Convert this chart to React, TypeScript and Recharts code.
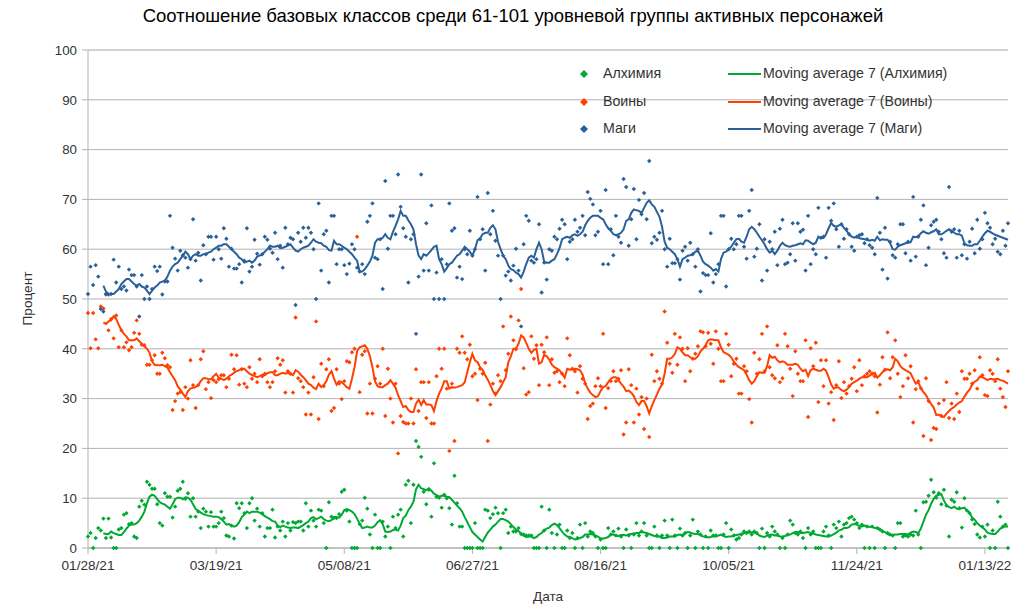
import React from 'react';
import { ComposedChart, Scatter, Line, XAxis, YAxis, CartesianGrid } from 'recharts';

// one value per day, starting 01/28/21
const START = '01/28/21';
const TICK_DAYS = [0, 50, 100, 150, 200, 250, 300, 350];
const TICK_LABELS = ['01/28/21', '03/19/21', '05/08/21', '06/27/21', '08/16/21', '10/05/21', '11/24/21', '01/13/22'];
const MAJOR_TICKS = [0, 10, 20, 30, 40, 50, 60, 70, 80, 90, 100];
const MINOR_TICKS = [0, 2, 4, 6, 8, 10, 12, 14, 16, 18, 20, 22, 24, 26, 28, 30, 32, 34, 36, 38, 40, 42, 44, 46, 48, 50,
  52, 54, 56, 58, 60, 62, 64, 66, 68, 70, 72, 74, 76, 78, 80, 82, 84, 86, 88, 90, 92, 94, 96, 98, 100];

const ALCH = [
  2.3, 3, 0, 2, 4, 3.5, 5.9, 2, 5.9, 2.1,
  0, 0, 3.7, 4, 6.7, 7, 4.8, 5, 2.3, 2,
  8.3, 9.5, 8.7, 13.3, 12.7, 11.9, 11.9, 8.8, 5, 4.5,
  11, 10.3, 10.3, 6.1, 8.3, 11.5, 11.9, 13.3, 9.9, 11,
  6.3, 10, 6.3, 7.3, 4, 7.9, 7.3, 4.3, 7.2, 4.3,
  4.3, 5, 7.3, 6, 2.5, 2.3, 4.5, 1.9, 9, 8,
  9, 7, 4, 9, 10, 5.5, 7.9, 4.3, 7, 2.3,
  4, 4, 7.7, 2.1, 4.3, 3.5, 5.3, 2.3, 5, 3.5,
  5.2, 5, 5.3, 5.3, 3.5, 9, 4.3, 7.5, 5.5, 4.3,
  7.7, 7.5, 5, 0, 9.2, 6.3, 6, 6, 6.8, 11.3,
  11.7, 7.5, 5.3, 0, 0, 0, 4.8, 5.5, 10.1, 7.9,
  2.7, 0, 6.7, 0, 0, 5.3, 2.3, 4.3, 0, 6.3,
  4, 6.7, 7.7, 2.3, 12.7, 13.5, 5, 12.7, 21.5, 20.3,
  18.3, 11.3, 8.8, 11.7, 6.3, 17, 10.3, 10.1, 8.1, 10.7,
  10, 8, 4.7, 14.5, 9, 4.3, 4.3, 0, 0, 0,
  0, 5, 0, 0, 0, 7.7, 7.5, 6, 6.8, 8.1,
  7, 0, 7, 7.7, 3, 4.3, 3.3, 3.3, 4, 2.8,
  2.7, 2.5, 2.5, 2.5, 0, 0, 0, 8.3, 3.5, 0,
  7.7, 3, 0, 2.7, 4.7, 0, 0, 3.5, 2, 3,
  0, 2, 4.7, 0, 5, 2.3, 3.3, 3, 2.3, 0,
  1.7, 0, 0, 4, 2.7, 3.3, 2.5, 3.9, 2.3, 0,
  3.7, 2.5, 0, 2.7, 5, 2.5, 3.3, 5, 2.5, 0,
  0, 4.3, 2.5, 0, 2.5, 5.5, 2.5, 0, 5.7, 2.5,
  0, 3.9, 2.5, 3, 0, 2.5, 5.7, 0, 3.3, 2.7,
  0, 2.3, 0, 3.5, 2.5, 2.5, 0, 0, 2.7, 5,
  0, 3.7, 2.5, 1.7, 2, 2.7, 3.3, 3, 3.3, 2.7,
  3.3, 3, 0, 3.9, 0, 3, 2.3, 4.3, 3.3, 2.7,
  0, 2, 0, 2.7, 5.5, 4.7, 3, 2.7, 3.3, 2,
  0, 4, 2.7, 3.3, 0, 0, 0, 3.3, 4.3, 2.5,
  0, 4.7, 4, 5.3, 2.3, 4.7, 5, 6, 6.3, 5.7,
  5, 4, 4.7, 0, 4.3, 0, 4.3, 0, 4, 3.7,
  3.3, 0, 3, 2.7, 2.5, 0, 5, 5, 2.3, 2.5,
  2.3, 2.7, 2.5, 7.5, 2.7, 0, 9.2, 9.3, 10.5, 13.7,
  11.2, 10.1, 11, 8.8, 11.7, 8.5, 2.3, 9.7, 9.3, 11.2,
  8, 4.1, 10, 7.5, 7, 5.7, 4.8, 2.7, 2.1, 4.3,
  2.3, 4.7, 0, 3.5, 0, 9.3, 6.3, 4.3, 4.7, 0,
];

const WAR = [
  47.2, 40.1, 47.2, 41.9, 40.1, 48.5, 48.1, 50.9, 43.7, 46,
  42.1, 46.7, 40.3, 43.7, 40.3, 41.3, 39.7, 40.3, 43.2, 45.7,
  43, 40.8, 40.7, 36.8, 36.8, 37.7, 38.7, 35, 35, 39.2,
  38.1, 36.7, 36.3, 27.7, 29.5, 31, 31.3, 27.7, 32.3, 30,
  37.7, 32.7, 28.1, 32.7, 37.9, 39.5, 31.9, 33.3, 30.1, 33.7,
  33.3, 33.9, 34.7, 34.7, 32.3, 34, 38.8, 35.9, 38.7, 32.8,
  35.9, 33, 32.3, 36.3, 34, 35, 33.3, 37.9, 34.5, 35,
  33.3, 32.3, 33.3, 35.5, 38.1, 36.8, 37.7, 31.2, 35.5, 35,
  31.2, 46.3, 34.1, 33.5, 32.3, 26.8, 31.2, 26.8, 34.3, 45.5,
  25.9, 37, 32.5, 35.9, 37.9, 27.5, 28.1, 35.9, 33, 29.9,
  33.5, 37.5, 37.3, 39.3, 40, 62.5, 31.3, 38.8, 39.5, 27,
  33, 27, 34, 36.5, 33, 40, 26.5, 36, 30, 25.2,
  33, 19, 26.5, 25.3, 25, 25, 30, 25, 35.9, 27.5,
  33.3, 33.3, 26.1, 33.3, 25, 25, 34.5, 40, 36, 40,
  32, 19.5, 33, 21.5, 40, 39.2, 42.5, 39.2, 37.9, 40.8,
  34.5, 35, 29.7, 36, 35, 37.2, 21.5, 28.8, 33, 31,
  34.7, 33.5, 44.5, 35.7, 39, 46.5, 41.7, 39.9, 45.7, 52,
  36.1, 30.8, 31.3, 42.5, 38, 40.7, 32.7, 40.8, 39.3, 42.3,
  32.7, 37.9, 35.2, 35.5, 33.3, 35, 32.5, 42.1, 38.7, 36,
  35.5, 31.2, 36.5, 34, 33, 25.9, 28.5, 29, 32.5, 34.1,
  32.5, 43, 28.1, 32.1, 33.5, 35.5, 33.5, 34, 35.7, 22.8,
  25.2, 35.9, 32.7, 25.2, 32, 26.8, 30.3, 23.9, 30, 22.3,
  38.8, 33.5, 35.5, 34, 33, 47.5, 41.2, 37, 35.2, 43,
  36.8, 42.3, 40, 33.5, 40.1, 35.5, 38, 39, 40.5, 43.5,
  43.3, 40.5, 43.2, 41, 37, 43.5, 40, 33.5, 33.5, 43,
  40.8, 34.5, 37, 38, 31, 31, 36.5, 35.5, 29.9, 25.2,
  39.2, 35, 37.9, 43, 35.5, 44.5, 36.3, 34.7, 34.1, 40.7,
  33.3, 34.1, 43, 40.5, 36, 30.5, 39.5, 35, 33.5, 33.5,
  41.7, 26.3, 40.1, 36.5, 41.2, 29.3, 37.7, 32.5, 37.7, 29,
  31.3, 25.7, 32.7, 37.5, 30.1, 33.3, 31, 32.5, 34, 36.3,
  31.5, 37.7, 32.7, 34.5, 35, 35.5, 35, 34.5, 27.2, 32.8,
  38.3, 35.8, 43.3, 34.1, 38.3, 41.7, 35, 30.3, 32.5, 38.7,
  34.1, 36.5, 25.2, 31.9, 33.5, 32.1, 22.5, 34.1, 29.5, 21.7,
  24.1, 23.9, 29, 26.5, 29.7, 33.3, 26.1, 29, 25.9, 31,
  27.3, 35.5, 34, 34, 35, 33, 35.7, 32, 38.3, 34.7,
  30.7, 30.5, 35.7, 35, 33.5, 37.9, 32, 30.3, 28.3, 35.5,
];

const MAG = [
  51, 56.5, 52.8, 56.8, 54.5, 48, 47.5, 51, 50.9, 51,
  57.9, 53.3, 56.5, 52, 52.5, 51.7, 55.9, 54.8, 54.8, 52.5,
  46.5, 54.8, 50, 52.5, 50, 52, 56.5, 55.6, 56.5, 50.9,
  53.5, 53.5, 66.7, 60.3, 58.1, 55.7, 59.7, 58.8, 58.3, 56.3,
  58, 66, 57.7, 59.3, 53.7, 60.8, 59, 62.5, 62.5, 57.9,
  62.5, 60, 58.1, 64.2, 62.1, 56.5, 60.1, 56.1, 56.1, 57,
  53.3, 57.7, 64.2, 55.5, 56.5, 61.9, 59.1, 56.9, 59, 62.5,
  61.9, 60.1, 59.3, 63.3, 58, 60.7, 56.3, 64.3, 61, 62.3,
  62, 48.8, 63.3, 61.5, 64.3, 62.3, 64.3, 63.3, 60, 50,
  69.2, 55.7, 63, 63.7, 53.3, 66.7, 66.7, 57, 60, 60,
  56.8, 55, 57.1, 61, 60, 56.3, 55.5, 57, 55, 65.5,
  66.7, 69.2, 58.3, 58, 62, 52, 73.7, 60.1, 66.7, 66.7,
  63, 75, 68.5, 64.2, 62.5, 53.3, 62, 63, 43, 54.5,
  75, 55.7, 65.2, 55.7, 68.8, 50, 55.3, 50, 58, 50,
  57, 69.2, 63.7, 64.2, 54.3, 56.5, 54, 60, 59, 63.7,
  58.7, 60, 70.5, 62, 64, 55.7, 71.3, 63, 67.7, 61.7,
  58.7, 50, 58.7, 54.7, 55.5, 53.7, 56.7, 60.1, 55.7, 44.5,
  61, 66.7, 65.7, 57.7, 57.3, 58, 65, 51.3, 57.3, 53.9,
  60, 59.7, 62.5, 62, 64.1, 65.9, 65, 58, 61.5, 62,
  65.9, 63.5, 64.3, 66.7, 62.8, 71.5, 70.1, 69, 62.8, 63.5,
  67.7, 57, 71.9, 57, 64, 58.8, 66.7, 62.5, 61.3, 74.1,
  72.5, 60.7, 66, 72.1, 62, 69.9, 67, 71.3, 66, 77.7,
  61.2, 62.5, 61.9, 63.3, 67.7, 60, 56.5, 62.1, 57.2, 57.2,
  58, 53.9, 59.7, 60.5, 57.7, 61.3, 59, 56.5, 60, 51.5,
  55.2, 54.8, 54.8, 63.2, 53.3, 55, 57, 66.7, 66.7, 52.5,
  60, 62.1, 60, 61, 66.7, 66.7, 60.5, 58.1, 67.7, 71.9,
  58.5, 60.1, 65, 53.7, 62, 55.7, 61.5, 60, 63.5, 56.8,
  64.1, 65.9, 57, 57.3, 59, 65.2, 57.7, 65.2, 63.5, 63.9,
  55.7, 66.7, 57, 60, 59, 68.3, 62.3, 62.5, 58.3, 68.3,
  65.7, 69.2, 64, 60.5, 65, 62.1, 64, 63, 60.5, 59.7,
  62.5, 62.8, 63, 61.2, 62, 60.8, 60.3, 59, 70.3, 63.3,
  55.9, 64.3, 54.1, 61.5, 58.8, 58.3, 61, 65, 65, 59.2,
  61.5, 57.7, 70.5, 58.5, 62.5, 65.9, 68.8, 56.8, 60.3, 64.8,
  65.5, 65.9, 63.5, 62, 59.2, 58.3, 72.5, 63.5, 64, 58.3,
  63.7, 58.8, 61, 58.1, 61.5, 64.1, 59.2, 65.9, 60.1, 62,
  67.3, 65.2, 64.3, 61, 62.1, 59.5, 59, 63.7, 60.7, 65.2,
];

// 7-day moving averages as drawn (empty for the first six days)
const ALCH_MA = [
  null, null, null, null, null, null, 3, 2.8, 2.8, 3.3,
  3, 2.8, 2.6, 2.6, 3.2, 3.9, 4.5, 4.7, 4.7, 5,
  5.5, 6.3, 7.3, 9, 10.3, 10.7, 10.5, 9.8, 9.2, 8.9,
  8.7, 8.3, 7.9, 8.8, 9.8, 10.1, 10.1, 9.8, 10.2, 10.1,
  9.7, 8.8, 7.8, 7.5, 7.1, 6.8, 6.6, 6.5, 6.4, 6.3,
  6.3, 6.2, 5.8, 5.3, 4.7, 4.8, 4.5, 4.3, 4.5, 5.2,
  6.2, 6.7, 7.3, 7, 7.3, 7.3, 7.3, 7.1, 6.8, 6.4,
  6.1, 5.8, 5.4, 5.3, 4.5, 4.2, 4.5, 4.3, 4.1, 4,
  4.1, 4.1, 4, 4.3, 4.6, 5, 5.3, 6, 6.2, 5.8,
  6, 6.3, 5.8, 5.5, 5.4, 5.6, 6.2, 6.2, 6.1, 6.7,
  7.6, 7.8, 7.6, 7.3, 6.8, 5.9, 4.9, 4, 4.1, 4.3,
  4.1, 4.1, 4.5, 5.2, 5.6, 4.8, 3.3, 3.2, 3.3, 3.6,
  3.7, 3.5, 4.5, 6, 6.5, 7.6, 8.3, 9.3, 11.8, 12.7,
  12, 11.8, 11.6, 12, 11.5, 10.9, 10.6, 10.3, 10.5, 10.5,
  10.3, 10.2, 9.7, 9.1, 8.5, 8, 7.3, 6.2, 5.2, 4.2,
  3.2, 2.7, 2.2, 1.7, 1.3, 2.2, 3.1, 3.7, 4.3, 4.7,
  5.3, 5.8, 5.8, 5.6, 5.3, 4.8, 4.2, 3.7, 3.4, 2.9,
  2.5, 2.2, 2.3, 2.3, 2, 2.2, 2.7, 3, 3.5, 3.9,
  4.1, 4.6, 4.9, 4.6, 4, 3.3, 2.7, 2.3, 2.2, 2,
  1.7, 1.8, 2, 2.2, 2.7, 2.7, 2.8, 2.7, 2.5, 2.3,
  1.9, 1.9, 2, 2.2, 2.7, 2.7, 2.5, 2.4, 2.6, 2.6,
  2.5, 2.7, 2.8, 2.9, 3, 3, 3.3, 3.1, 3, 2.8,
  2.6, 2.4, 2.3, 2.3, 2, 2, 2.1, 2.3, 2.3, 2.3,
  2.6, 2.7, 2.5, 3, 3.2, 3.1, 2.9, 2.8, 2.8, 2.6,
  2.3, 2.3, 2.1, 2.2, 2.4, 2.3, 2.5, 2.7, 2.4, 2.2,
  2.3, 2.3, 2.5, 2.6, 2.7, 2.8, 3, 3.1, 3.1, 3.1,
  3.1, 2.9, 2.5, 2.3, 2.2, 2.5, 2.6, 2.7, 2.5, 2.5,
  2.3, 2.3, 2.4, 2.6, 2.7, 3, 3.2, 3.2, 3, 3,
  3.1, 3.2, 3, 2.9, 2.7, 2.6, 2.5, 2.4, 2.3, 2.3,
  2.5, 2.8, 3.1, 3.5, 3.7, 4, 4, 4.2, 4.7, 4.8,
  4.7, 4.4, 4.3, 4.5, 4.4, 4.2, 4.3, 4, 4, 3.8,
  3.4, 3.2, 2.8, 2.6, 2.6, 2.7, 2.7, 2.8, 2.8, 2.8,
  2.7, 3.1, 3.3, 3.2, 3, 3.9, 5.3, 6.7, 7.6, 8.9,
  9.9, 10.5, 10.7, 10.8, 9.5, 8.6, 8.2, 8, 8.3, 7.9,
  7.8, 8, 8.1, 7.5, 7.1, 6.1, 5.7, 5, 4.5, 4.1,
  3.7, 3.1, 2.9, 2.8, 2.8, 3.3, 3.9, 4.2, 4.3, 4.3,
];

const WAR_MA = [
  null, null, null, null, null, null, 45.3, 45, 45.5, 45.7,
  46.5, 46, 44.8, 43.8, 43, 42.5, 41.7, 41.7, 41.7, 42.1,
  41.5, 41, 40.5, 40, 39.2, 37.5, 36.8, 36.7, 36.7, 36.8,
  36.5, 36.2, 35.3, 34.5, 33.7, 32.5, 31.8, 31, 30.3, 31.5,
  32, 32.2, 32.3, 32.7, 33.5, 34.1, 34.1, 33.9, 33.9, 34.5,
  35, 34.2, 34, 33.7, 34, 34.5, 34.8, 35.2, 35.5, 35.7,
  36, 36, 35.5, 35, 34.7, 34.5, 34.3, 34.5, 34.8, 34.7,
  35.1, 35.3, 35.3, 34.7, 34.7, 35, 35.2, 35, 35.2, 35,
  34.7, 35.7, 35.4, 34.8, 34.3, 33.7, 33, 32.7, 32.2, 31.9,
  33, 32.3, 32.7, 33.5, 34.8, 35.5, 34, 32.8, 33.5, 33.3,
  32.8, 32.3, 32, 34, 36.3, 39.5, 40.3, 40.5, 40.7, 40,
  38.5, 36.3, 33.5, 32.5, 32.3, 32.3, 32.7, 33, 33.7, 33,
  32.2, 30.7, 29.5, 28.3, 28.5, 27.7, 27.3, 27.3, 29, 29.8,
  28.7, 29.7, 28.8, 28.8, 28.7, 27.5, 29.5, 31, 32, 33.5,
  33.5, 32, 32.3, 32.2, 32.3, 32.5, 32.7, 33.3, 35.3, 37.3,
  39, 37.7, 37.3, 36.3, 35.8, 34.7, 33.8, 32.7, 31.5, 30.7,
  31.5, 32.3, 33.3, 34.3, 37.3, 38.5, 40, 40, 41, 42.7,
  42.3, 41.2, 40, 39.2, 39.8, 40, 37, 37.3, 38.8, 38.5,
  37.8, 36.8, 36.3, 36, 35.7, 35, 34.2, 36, 35.8, 35.9,
  36, 35.9, 35.7, 34.8, 33.1, 32, 31.2, 30.7, 30.3, 30.5,
  31.5, 32.3, 32.5, 33.3, 34, 34.3, 34.3, 33.7, 33, 32.4,
  31.5, 31.6, 31.2, 30.5, 29.3, 28.7, 29.5, 29.5, 28.5, 27,
  28.5, 29.7, 30.8, 32, 32.8, 35, 38, 38, 38.3, 39,
  40.3, 40, 39.3, 38.7, 38.7, 38.3, 38, 38, 38.5, 39.5,
  40, 40.7, 41.7, 41.9, 41.8, 41.7, 41.7, 40.3, 39.3, 39.1,
  38.8, 38.3, 37.4, 36.8, 36.3, 36, 35.7, 34.8, 33.7, 33,
  33.5, 34.5, 35.3, 35.2, 35.2, 36.5, 38.7, 38.2, 38.4, 37.7,
  37.3, 37.5, 37.3, 36.8, 36.8, 36.8, 37, 36.8, 36, 35.5,
  35.8, 34.5, 35.7, 36, 35.8, 35.6, 35.6, 36, 35.6, 34.3,
  32.8, 32, 32.3, 32.2, 31.7, 31.5, 31.8, 32.3, 33, 33.3,
  33.6, 34, 34.3, 34.3, 34.3, 34.6, 35, 35.2, 34.2, 34.7,
  35.3, 35.8, 35.9, 35.7, 36.3, 38, 37.5, 36.5, 36, 35.7,
  35.4, 35.1, 34, 33, 33.3, 32.1, 31.3, 30.7, 29.7, 28.9,
  28.2, 26.7, 26.8, 26.5, 26.3, 27, 27.5, 28, 28.3, 28.8,
  29.2, 29.5, 30.4, 31.2, 31.8, 32.8, 33.4, 33.7, 34.4, 34.3,
  34, 33.7, 34, 33.9, 33.9, 34, 33.7, 33.6, 33.3, 33,
];

const MAG_MA = [
  null, null, null, null, null, null, 52.7, 51.5, 51, 51,
  51, 51.5, 52, 53, 53.5, 54, 54, 53.5, 53, 52.7,
  53, 52.5, 52.3, 51.7, 51, 51.7, 52.3, 52.7, 53.3, 53.5,
  53.7, 54.5, 55.7, 56.5, 57, 57.3, 58, 58.7, 59.5, 59,
  58, 58.7, 59, 58.7, 58.7, 59, 59, 59.3, 59.5, 60,
  60.3, 60.7, 60.7, 61, 61, 60.5, 60, 59.5, 59, 58.3,
  58, 57.3, 57.5, 57.7, 57.3, 57.7, 58.5, 58.7, 59, 59.5,
  60, 60.7, 60.5, 60.5, 60.7, 60.2, 60.3, 60.5, 60.7, 61,
  60.3, 59.7, 59.5, 60, 60.3, 60.5, 60.7, 61.3, 62, 61.5,
  61.3, 61.2, 60.7, 60.5, 59.8, 59.7, 61.7, 61, 61, 60.7,
  60.3, 60, 59.5, 59, 58.3, 57.7, 55.5, 55.5, 56, 56.7,
  57.5, 58.7, 61.3, 62, 62, 62.3, 63, 62.3, 62, 63.5,
  64.7, 66, 67.7, 66.7, 66.7, 65.8, 65, 64, 61, 58.7,
  58, 59, 58.7, 59.2, 59.8, 60.5, 60.7, 58, 57, 55.5,
  56.2, 57, 57.3, 58, 58.7, 59, 59.7, 60.5, 60, 59.5,
  58.7, 60, 61.8, 62.2, 63, 63.3, 63.3, 64.3, 64.8, 64,
  61.5, 60, 58.7, 58, 56.7, 56, 55.8, 55.3, 55, 54.3,
  55.5, 57, 58.3, 58.7, 58.3, 60, 61.3, 60, 57.5, 57.3,
  57.3, 57.7, 58, 59, 60.2, 62, 62.3, 62.5, 62.3, 62.8,
  63, 62.7, 63, 63.5, 64.8, 65.7, 66.3, 66.7, 66.7, 66.7,
  66.3, 66, 65, 64.2, 63.7, 63, 62.8, 63, 63.3, 64,
  65.7, 66, 67.3, 68, 67.8, 67.7, 67.3, 68.3, 69.3, 69.8,
  69, 68.5, 67.5, 66.5, 64.5, 61.5, 60.3, 60, 59.5, 59,
  58, 56.5, 58, 58.3, 58.7, 58.8, 59, 59.5, 59.7, 58.7,
  57.5, 57, 56.7, 56.3, 55.7, 56, 55.5, 58, 59.3, 59.5,
  60, 60.5, 61.3, 62, 62.1, 61.5, 61.3, 62.5, 64, 64.5,
  64, 63.3, 62.5, 61.8, 61, 60, 59.3, 59.7, 59, 59.7,
  60.7, 61.3, 60.8, 60.6, 60.5, 60.7, 60.8, 61, 61.2, 61,
  61.8, 61.7, 61.3, 61, 61.3, 62.5, 62.2, 62.3, 63, 64.2,
  65.3, 64.7, 64.5, 64.8, 65, 64.3, 63.7, 63, 62.5, 62.3,
  62.5, 62.2, 62.1, 62, 61.9, 61.7, 61.9, 61.7, 62.5, 61.8,
  62, 61.9, 61.9, 61.2, 60, 59.9, 60.5, 60.8, 61, 61.2,
  61.3, 61.4, 62.5, 62.4, 62.6, 63.2, 63.6, 63.3, 63.1, 63.4,
  63.6, 64, 63, 63, 63.3, 63.7, 64, 63.7, 63.3, 63,
  63, 62.7, 61.2, 60.8, 60.7, 60.7, 61, 61, 61.7, 62.5,
  63.2, 63.7, 63.5, 63.2, 62.9, 62.7, 62.5, 62.3, 62.1, 61.9,
];

const GREEN = '#00a933';
const RED = '#ff4000';
const BLUE = '#2a6099';
const FONT = '"Liberation Sans", Arial, sans-serif';

const SERIES = [
  { key: 'alch', name: 'Алхимия', color: GREEN },
  { key: 'war', name: 'Воины', color: RED },
  { key: 'mag', name: 'Маги', color: BLUE },
];

const data = ALCH.map((v, i) => ({
  day: i,
  alch: v,
  war: WAR[i],
  mag: MAG[i],
  alchMa: ALCH_MA[i],
  warMa: WAR_MA[i],
  magMa: MAG_MA[i],
}));

const diamond = (color: string) => (props: any) => {
  const { cx, cy } = props;
  if (cx == null || cy == null || isNaN(cx) || isNaN(cy)) return <g />;
  const r = 2.2;
  return <path d={`M${cx},${cy - r}L${cx + r},${cy}L${cx},${cy + r}L${cx - r},${cy}Z`} fill={color} />;
};

const dateLabel = (d: number) => {
  const i = TICK_DAYS.indexOf(d);
  return i >= 0 ? TICK_LABELS[i] : START;
};

const LegendBox = () => (
  <div style={{ position: 'absolute', left: 576, top: 62, fontFamily: FONT, fontSize: 14.2, color: '#333' }}>
    {SERIES.map((s, i) => (
      <div key={s.key} style={{ position: 'absolute', top: i * 27.5, left: 0, height: 24, width: 420 }}>
        <svg width={16} height={24} style={{ position: 'absolute', left: 0, top: 0 }}>
          <path d="M8,8L12,12L8,16L4,12Z" fill={s.color} />
        </svg>
        <span style={{ position: 'absolute', left: 27, top: 3, whiteSpace: 'nowrap' }}>{s.name}</span>
        <svg width={34} height={24} style={{ position: 'absolute', left: 152, top: 0 }}>
          <line x1={0} y1={12} x2={33} y2={12} stroke={s.color} strokeWidth={2} />
        </svg>
        <span style={{ position: 'absolute', left: 187, top: 3, whiteSpace: 'nowrap' }}>
          Moving average 7 ({s.name})
        </span>
      </div>
    ))}
  </div>
);

export default function App() {
  return (
    <div style={{ position: 'relative', width: 1024, height: 611, background: '#fff', fontFamily: FONT }}>
      <style>{'body{margin:0}'}</style>
      <div style={{ position: 'absolute', left: 0, width: 1026, top: 5, textAlign: 'center', fontSize: 18.5, color: '#000' }}>
        Соотношение базовых классов среди 61-101 уровневой группы активных персонажей
      </div>
      <ComposedChart width={1024} height={611} data={data} margin={{ top: 50, right: 16, bottom: 33, left: 28 }}>
        <YAxis yAxisId="minor" hide type="number" domain={[0, 100]} ticks={MINOR_TICKS} />
        <CartesianGrid yAxisId="minor" vertical={false} stroke="#e6e6e6" />
        <CartesianGrid vertical={false} stroke="#b3b3b3" />
        <XAxis
          dataKey="day"
          type="number"
          domain={[0, 359]}
          ticks={TICK_DAYS}
          tickFormatter={dateLabel}
          stroke="#b3b3b3"
          tickSize={6}
          tickMargin={6}
          height={30}
          tick={{ fill: '#333', fontSize: 13.6, fontFamily: FONT }}
        />
        <YAxis
          type="number"
          domain={[0, 100]}
          ticks={MAJOR_TICKS}
          width={60}
          stroke="#b3b3b3"
          tickSize={6}
          tickMargin={5}
          tick={{ fill: '#333', fontSize: 13.3, fontFamily: FONT }}
        />
        <YAxis yAxisId="right" orientation="right" width={0} domain={[0, 100]} tick={false} tickLine={false} stroke="#b3b3b3" />
        {SERIES.map((s) => (
          <Scatter key={s.key} dataKey={s.key} name={s.name} shape={diamond(s.color)} isAnimationActive={false} />
        ))}
        {SERIES.map((s) => (
          <Line
            key={s.key + 'Ma'}
            dataKey={s.key + 'Ma'}
            name={'Moving average 7 (' + s.name + ')'}
            type="linear"
            stroke={s.color}
            strokeWidth={2}
            dot={false}
            activeDot={false}
            isAnimationActive={false}
          />
        ))}
      </ComposedChart>
      <LegendBox />
      <div style={{ position: 'absolute', left: 448, width: 200, top: 589, textAlign: 'center', fontSize: 13.6, color: '#333' }}>
        Дата
      </div>
      <div
        style={{
          position: 'absolute',
          left: 27 - 50,
          top: 300 - 9,
          width: 100,
          textAlign: 'center',
          fontSize: 13.6,
          color: '#333',
          transform: 'rotate(-90deg)',
        }}
      >
        Процент
      </div>
    </div>
  );
}
